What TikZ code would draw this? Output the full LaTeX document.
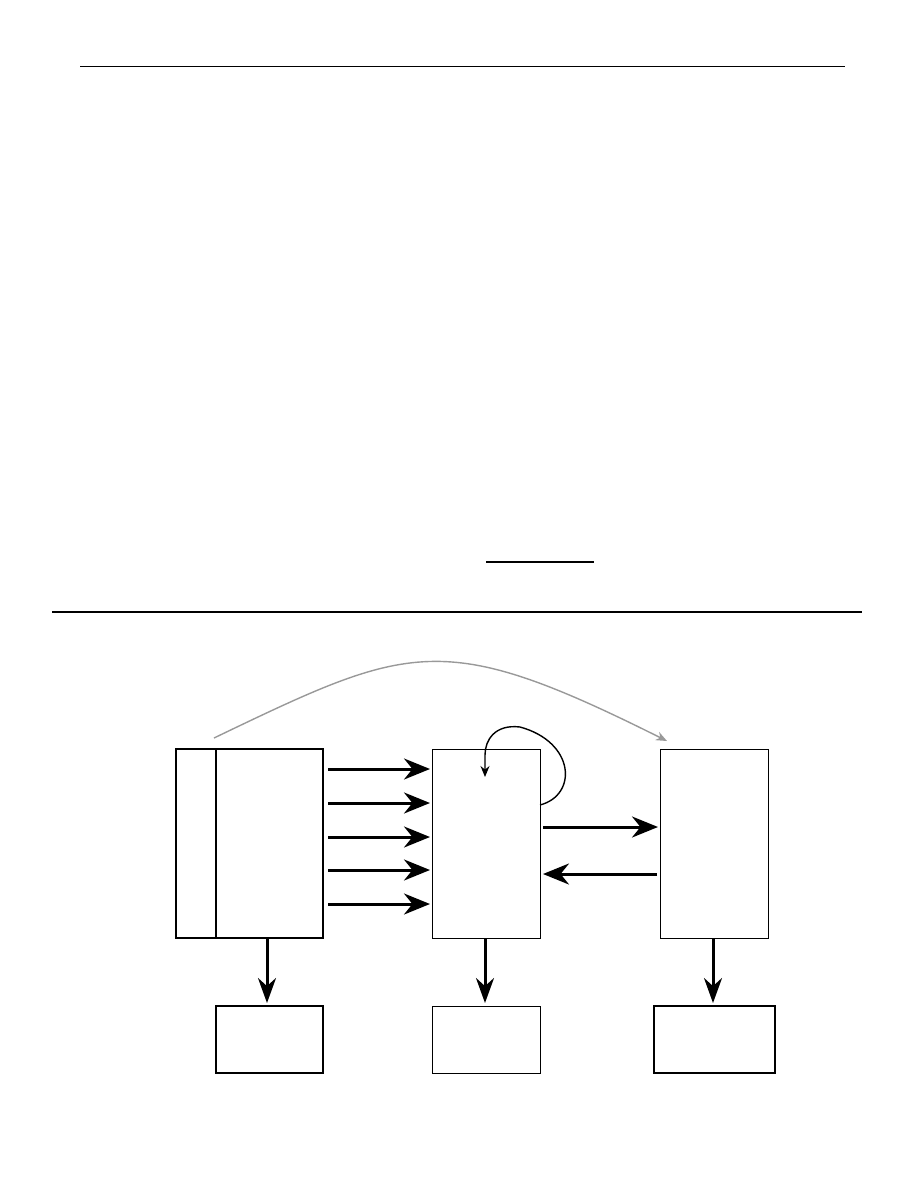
\documentclass[tikz,border=0pt]{standalone}
\usetikzlibrary{arrows.meta,positioning}
\definecolor{arcgray}{gray}{0.6}
\begin{document}
\begin{tikzpicture}[
  x=1pt, y=-1pt, >=Stealth,
  blk/.style={draw, inner sep=0pt, outer sep=0pt, minimum height=189pt},
  outbox/.style={draw, inner sep=0pt, outer sep=0pt, minimum height=67pt},
  bigarrow/.style={->, line width=3pt, >={Stealth[length=26pt, width=21pt]}},
  downarrow/.style={->, line width=3pt, >={Stealth[length=25pt, width=18pt]}},
]
\useasboundingbox (0,0) rectangle (918,1188);
\draw[line width=1pt] (80,67) -- (845,67);
\draw[line width=1.2pt] (486,562) -- (594,562);
\draw[line width=2pt] (52,612) -- (862,612);

\node[blk, line width=1.6pt, minimum width=40pt]  (tag)   at (196,843.5) {};
\node[blk, line width=1.6pt, minimum width=107pt] (main)  at (269.5,843.5) {};
\node[blk, line width=1pt, minimum width=108pt]   (mid)   at (486,843.5) {};
\node[blk, line width=1pt, minimum width=108pt]   (right) at (714,843.5) {};
\node[outbox, line width=1.5pt, minimum width=107pt] (outL) at (269.5,1039.5) {};
\node[outbox, line width=1pt, minimum width=108pt]   (outM) at (486,1039.5) {};
\node[outbox, line width=1.5pt, minimum width=121pt] (outR) at (714.5,1039.5) {};

\foreach \y in {769,803,837,870,904}
  \draw[bigarrow] ([xshift=5pt]main.east |- 0,\y) -- ([xshift=-2pt]mid.west |- 0,\y);
\draw[bigarrow] ([xshift=3pt]mid.east |- 0,827) -- ([xshift=-2pt]right.west |- 0,827);
\draw[bigarrow] ([xshift=-3pt]right.west |- 0,874) -- ([xshift=3pt]mid.east |- 0,874);

\draw[downarrow, shorten >=3pt] (main.south -| 267,0) -- (outL.north -| 267,0);
\draw[downarrow, shorten >=3pt] (mid.south -| 485,0) -- (outM.north -| 485,0);
\draw[downarrow, shorten >=3pt] (right.south -| 713,0) -- (outR.north -| 713,0);

\coordinate (loopend) at (485,777);
\draw[->, line width=1.4pt, >={Stealth[length=11pt, width=9pt]}]
  (mid.east |- 0,805) .. controls (578,795) and (575,742) .. (520,727)
  .. controls (495,724) and (485,740) .. (485,755) -- (loopend);

\coordinate (arcstart) at (214,738);
\coordinate (arcend) at (667,741);
\draw[->, arcgray, line width=1.4pt, >={Stealth[length=11pt, width=9pt]}]
  (arcstart) .. controls (411,643.5) and (442,628.5) .. (arcend);
\end{tikzpicture}
\end{document}
